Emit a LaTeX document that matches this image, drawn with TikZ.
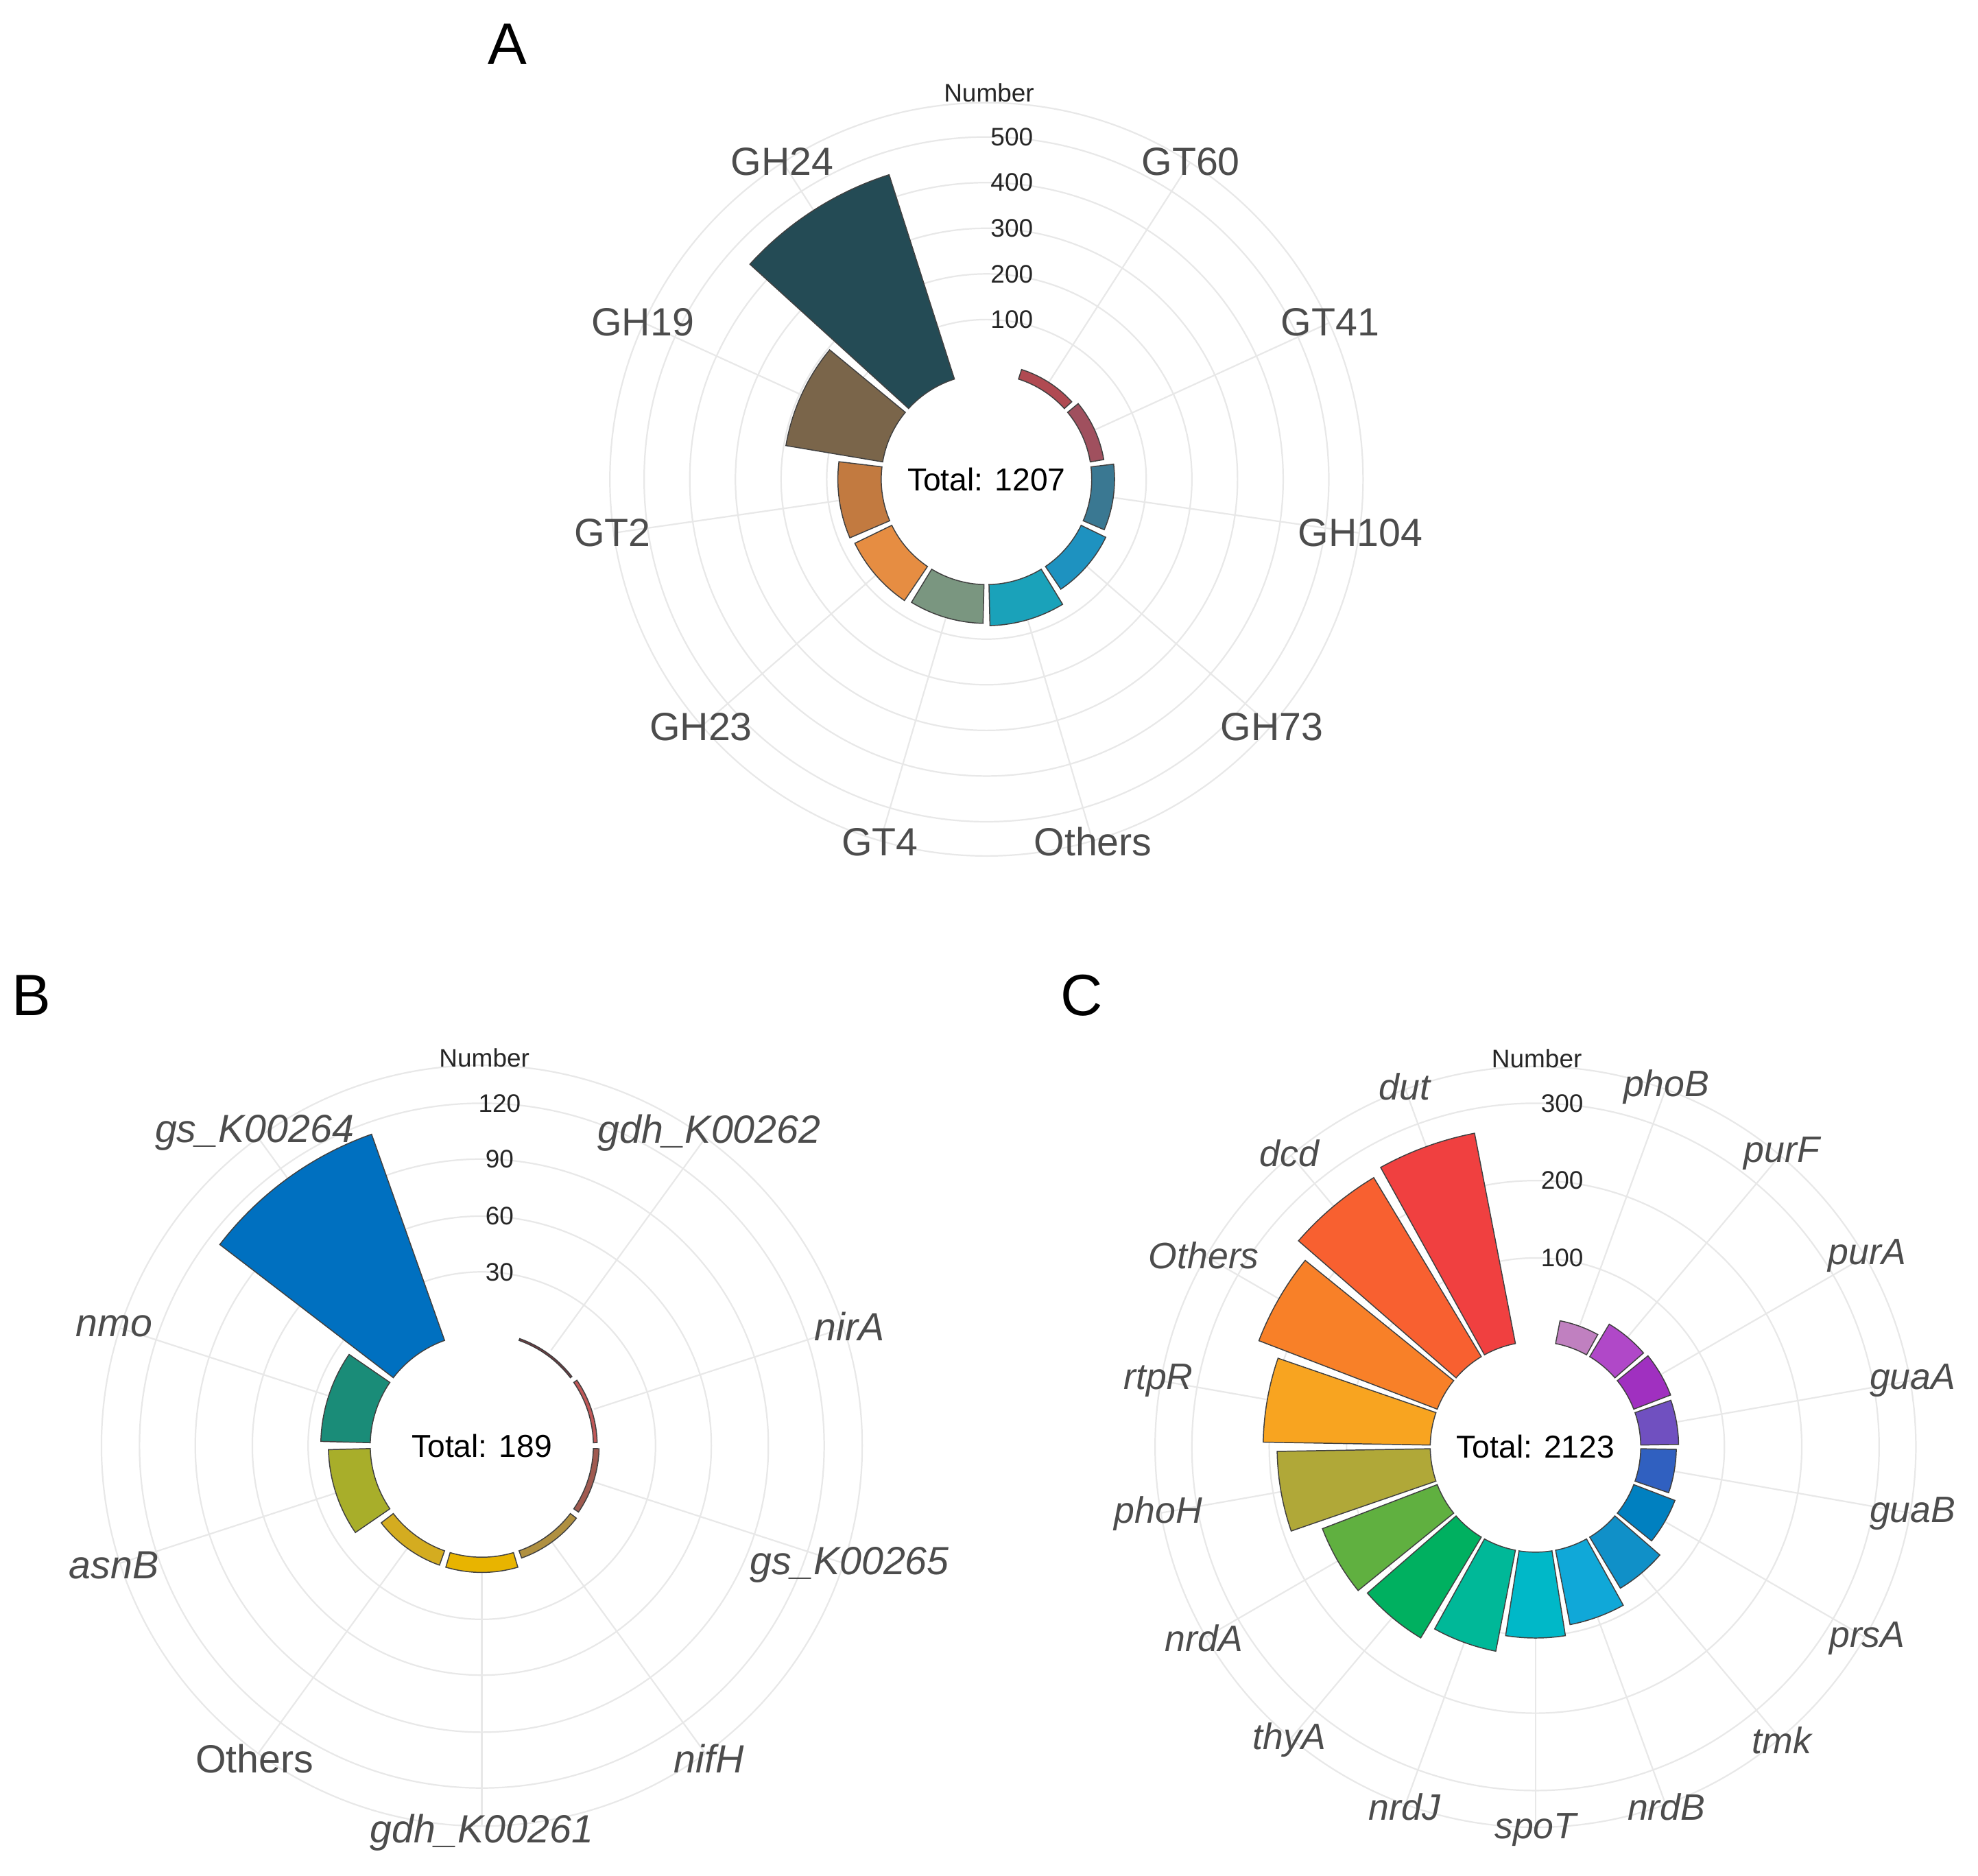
\documentclass[tikz,border=0pt]{standalone}
\usepackage{fontspec}
\setmainfont{Liberation Sans}
\begin{document}
\begin{tikzpicture}[x=1pt,y=-1pt,
  grid/.style={draw=black!9,line width=1.2},
  lab/.style={text=black!70,font=\fontsize{31}{34}\selectfont},
  ilab/.style={text=black!70,font=\fontsize{29}{32}\selectfont\itshape},
  tick/.style={text=black!85,font=\fontsize{20}{22}\selectfont},
  tot/.style={text=black,font=\fontsize{25}{28}\selectfont},
  panel/.style={text=black,font=\fontsize{46}{50}\selectfont},
  bar/.style={draw=black!75,line width=0.8}]
\useasboundingbox (0,0) rectangle (1560,1479);
% colours A
\definecolor{a1}{HTML}{B04A52}\definecolor{a2}{HTML}{A0505E}\definecolor{a3}{HTML}{3A7892}
\definecolor{a4}{HTML}{1E92C0}\definecolor{a5}{HTML}{1AA2BA}\definecolor{a6}{HTML}{7A9680}
\definecolor{a7}{HTML}{E68D42}\definecolor{a8}{HTML}{C27A40}\definecolor{a9}{HTML}{7A654A}
\definecolor{a10}{HTML}{244B55}
% colours B
\definecolor{b1}{HTML}{7A3A40}\definecolor{b2}{HTML}{C05858}\definecolor{b3}{HTML}{A05A50}
\definecolor{b4}{HTML}{B09040}\definecolor{b5}{HTML}{E8B400}\definecolor{b6}{HTML}{D4AC20}
\definecolor{b7}{HTML}{A8AE2A}\definecolor{b8}{HTML}{1A8C78}\definecolor{b9}{HTML}{0070C0}
% colours C
\definecolor{c1}{HTML}{C080C0}\definecolor{c2}{HTML}{B048C8}\definecolor{c3}{HTML}{A030C0}
\definecolor{c4}{HTML}{7050C0}\definecolor{c5}{HTML}{3060C0}\definecolor{c6}{HTML}{0080C0}
\definecolor{c7}{HTML}{1090C8}\definecolor{c8}{HTML}{10A8D8}\definecolor{c9}{HTML}{00B8C8}
\definecolor{c10}{HTML}{00B898}\definecolor{c11}{HTML}{00B060}\definecolor{c12}{HTML}{60B040}
\definecolor{c13}{HTML}{B0A838}\definecolor{c14}{HTML}{F8A420}\definecolor{c15}{HTML}{F88028}
\definecolor{c16}{HTML}{F86030}\definecolor{c17}{HTML}{F04040}

% ================= A
\node[panel] (pA) at (400,35) {A};
\begin{scope}[shift={(778,378)}]
\foreach \r in {126,162,198,234,270,297} \draw[grid] (0,0) circle[radius=\r];
\foreach \k in {1,...,10} \draw[grid] ({\k*360/11-90}:90) -- ({\k*360/11-90}:297);
\foreach \k/\v/\t [count=\i] in {1/22/GT60,2/30/GT41,3/50/GH104,4/60/GH73,5/90/Others,6/85/GT4,7/90/GH23,8/95/GT2,9/215/GH19,10/470/GH24}{
  \pgfmathsetmacro\a{\k*360/11-90}
  \fill[a\i,bar] ({\a-15}:83) arc[start angle={\a-15},end angle={\a+15},radius=83] -- ({\a+15}:{83+0.36*\v}) arc[start angle={\a+15},end angle={\a-15},radius={83+0.36*\v}] -- cycle;
  \node[lab] (la\k) at (\a:298) {\t};
}
\node[tot] (tA) at (0,0) {Total: 1207};
\node[tick] (nA) at (2,-305) {Number};
\foreach \v/\y in {100/-126,200/-162,300/-198,400/-234,500/-270} \node[tick] (tkA\v) at (20,\y) {\v};
\end{scope}

% ================= B
\node[panel] (pB) at (25,785) {B};
\begin{scope}[shift={(380,1140)}]
\foreach \r in {137,181,226,270,300} \draw[grid] (0,0) circle[radius=\r];
\foreach \k in {1,...,9} \draw[grid] ({\k*36-90}:93) -- ({\k*36-90}:300);
\foreach \k/\v/\t [count=\i] in {1/1/\textit{gdh\_K00262},2/2/\textit{nirA},3/3/\textit{gs\_K00265},4/4/\textit{nifH},5/8/\textit{gdh\_K00261},6/8/Others,7/22/\textit{asnB},8/26/\textit{nmo},9/115/\textit{gs\_K00264}}{
  \pgfmathsetmacro\a{\k*36-90}
  \fill[b\i,bar] ({\a-16.5}:88) arc[start angle={\a-16.5},end angle={\a+16.5},radius=88] -- ({\a+16.5}:{88+1.5*\v}) arc[start angle={\a+16.5},end angle={\a-16.5},radius={88+1.5*\v}] -- cycle;
  \node[lab] (lb\k) at (\a:305) {\t};
}
\node[tot] (tB) at (0,0) {Total: 189};
\node[tick] (nB) at (2,-306) {Number};
\foreach \v/\y in {30/-137,60/-181,90/-226,120/-270} \node[tick] (tkB\v) at (14,\y) {\v};
\end{scope}

% ================= C
\node[panel] (pC) at (853,785) {C};
\begin{scope}[shift={(1211,1141)}]
\foreach \r in {149,210,271,300} \draw[grid] (0,0) circle[radius=\r];
\foreach \k in {1,...,17} \draw[grid] ({\k*20-90}:88) -- ({\k*20-90}:300);
\foreach \k/\v/\t [count=\i] in {1/30/\textit{phoB},2/49/\textit{purF},3/51/\textit{purA},4/49/\textit{guaA},5/46/\textit{guaB},6/57/\textit{prsA},7/77/\textit{tmk},8/98/\textit{nrdB},9/111/\textit{spoT},10/133/\textit{nrdJ},11/152/\textit{thyA},12/159/\textit{nrdA},13/198/\textit{phoH},14/216/\textit{rtpR},15/247/Others,16/270/\textit{dcd},17/277/\textit{dut}}{
  \pgfmathsetmacro\a{\k*20-90}
  \fill[c\i,bar] ({\a-9}:83) arc[start angle={\a-9},end angle={\a+9},radius=83] -- ({\a+9}:{83+0.61*\v}) arc[start angle={\a+9},end angle={\a-9},radius={83+0.61*\v}] -- cycle;
  \node[ilab] (lc\k) at (\a:302) {\t};
}
\node[tot] (tC) at (0,0) {Total: 2123};
\node[tick] (nC) at (1,-306) {Number};
\foreach \v/\y in {100/-149,200/-210,300/-271} \node[tick] (tkC\v) at (21,\y) {\v};
\end{scope}
\end{tikzpicture}
\end{document}
